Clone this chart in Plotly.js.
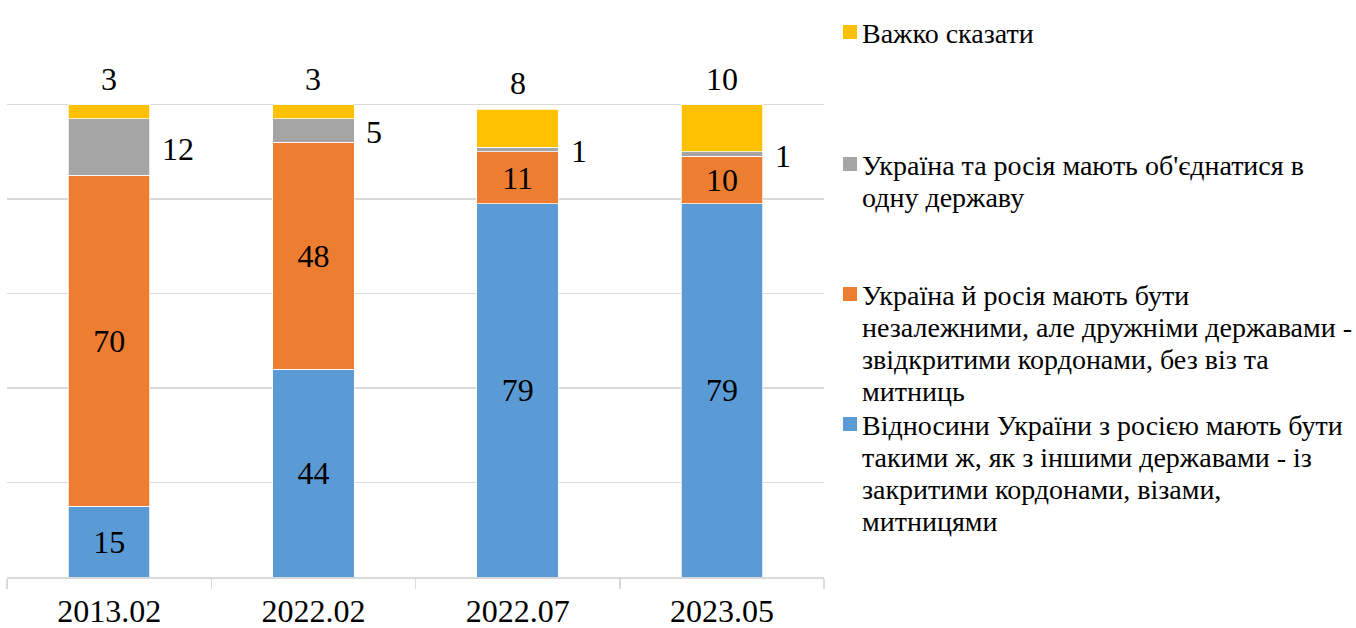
<!DOCTYPE html>
<html>
<head>
<meta charset="utf-8">
<script src="https://cdn.plot.ly/plotly-3.0.1.min.js"></script>
<style>html,body{margin:0;padding:0;background:#fff;}#chart{width:1356px;height:628px;}</style>
</head>
<body>
<div id="chart"></div>
<script>
// ---- data ----
const categories = ['2013.02', '2022.02', '2022.07', '2023.05'];
const blueVals = [15, 44, 79, 79];
const orangeVals = [70, 48, 11, 10];
const grayVals = [12, 5, 1, 1];
const yellowVals = [3, 3, 8, 10];

const legendYellow = ['Важко сказати'];
const legendGray = ["Україна та росія мають об'єднатися в", 'одну державу'];
const legendOrange = ['Україна й росія мають бути', 'незалежними, але дружніми державами -', 'звідкритими кордонами, без віз та', 'митниць'];
const legendBlue = ['Відносини України з росією мають бути', 'такими ж, як з іншими державами - із', 'закритими кордонами, візами,', 'митницями'];

// ---- style ----
const FONT = "'Liberation Serif', 'Times New Roman', Times, serif";
const colors = {blue: '#5B9BD5', orange: '#ED7D31', gray: '#A5A5A5', yellow: '#FFC000'};
const W = 1356, H = 628;
const M = {l: 7, r: 532, t: 10, b: 51};
const plotW = W - M.l - M.r, plotH = H - M.t - M.b;
const px2x = p => (p - M.l) / plotW;
const py2y = p => (H - M.b - p) / plotH;

const barLine = {color: '#ffffff', width: 0.75};
function barTrace(vals, color, withText) {
  const t = {
    type: 'bar', x: categories, y: vals,
    marker: {color: color, line: barLine},
    showlegend: false, hoverinfo: 'skip', cliponaxis: false
  };
  if (withText) {
    t.text = vals.map(String);
    t.textposition = 'inside';
    t.insidetextanchor = 'middle';
    t.constraintext = 'none';
    t.textfont = {family: FONT, size: 32, color: '#000'};
    t.textangle = 0;
  } else {
    t.textposition = 'none';
  }
  return t;
}
const traces = [
  barTrace(blueVals, colors.blue, true),
  barTrace(orangeVals, colors.orange, true),
  barTrace(grayVals, colors.gray, false),
  barTrace(yellowVals, colors.yellow, false)
];

const annotations = [];
const shapes = [];
categories.forEach((c, i) => {
  const base = blueVals[i] + orangeVals[i];
  annotations.push({
    x: i, y: base + grayVals[i] / 2, xref: 'x', yref: 'y',
    text: String(grayVals[i]), showarrow: false, xanchor: 'left', yanchor: 'middle',
    xshift: 51, yshift: -2, font: {family: FONT, size: 32, color: '#000'}
  });
  const total = base + grayVals[i] + yellowVals[i];
  annotations.push({
    x: i, y: total, xref: 'x', yref: 'y',
    text: String(yellowVals[i]), showarrow: false, xanchor: 'center', yanchor: 'middle',
    yshift: 26, font: {family: FONT, size: 32, color: '#000'}
  });
});

// legend (manual, Excel-like slots)
const legendEntries = [
  {lines: legendYellow, color: colors.yellow, baseline: 42},
  {lines: legendGray, color: colors.gray, baseline: 174},
  {lines: legendOrange, color: colors.orange, baseline: 304},
  {lines: legendBlue, color: colors.blue, baseline: 434}
];
const LINE = 32.3;
legendEntries.forEach(e => {
  shapes.push({
    type: 'rect', xref: 'paper', yref: 'paper',
    x0: px2x(843), x1: px2x(857), y0: py2y(e.baseline - 3), y1: py2y(e.baseline - 17),
    fillcolor: e.color, line: {width: 0}
  });
  e.lines.forEach((ln, k) => {
    annotations.push({
      xref: 'paper', yref: 'paper', x: px2x(860), y: py2y(e.baseline + k * LINE - 9),
      xanchor: 'left', yanchor: 'middle', text: ln, showarrow: false,
      font: {family: FONT, size: 28, color: '#000'}
    });
  });
});

const layout = {
  width: W, height: H,
  margin: M,
  paper_bgcolor: '#fff', plot_bgcolor: '#fff',
  font: {family: FONT, color: '#000'},
  barmode: 'stack', bargap: 0.6,
  showlegend: false,
  xaxis: {
    type: 'category', range: [-0.5, categories.length - 0.5], autorange: false,
    showgrid: false, showline: true, linecolor: '#d9d9d9', linewidth: 1.5,
    ticks: 'outside', tickson: 'boundaries', ticklen: 10, tickcolor: '#d9d9d9', tickwidth: 1.5,
    tickfont: {family: FONT, size: 32, color: '#000'}, ticklabelstandoff: 5,
    fixedrange: true
  },
  yaxis: {
    range: [0, 120], dtick: 20, tick0: 0, showgrid: true, gridcolor: '#d9d9d9', gridwidth: 1.5,
    showticklabels: false, zeroline: false, showline: false, ticks: '', fixedrange: true
  },
  annotations: annotations,
  shapes: shapes
};

Plotly.newPlot('chart', traces, layout, {displayModeBar: false, staticPlot: true});
</script>
</body>
</html>
